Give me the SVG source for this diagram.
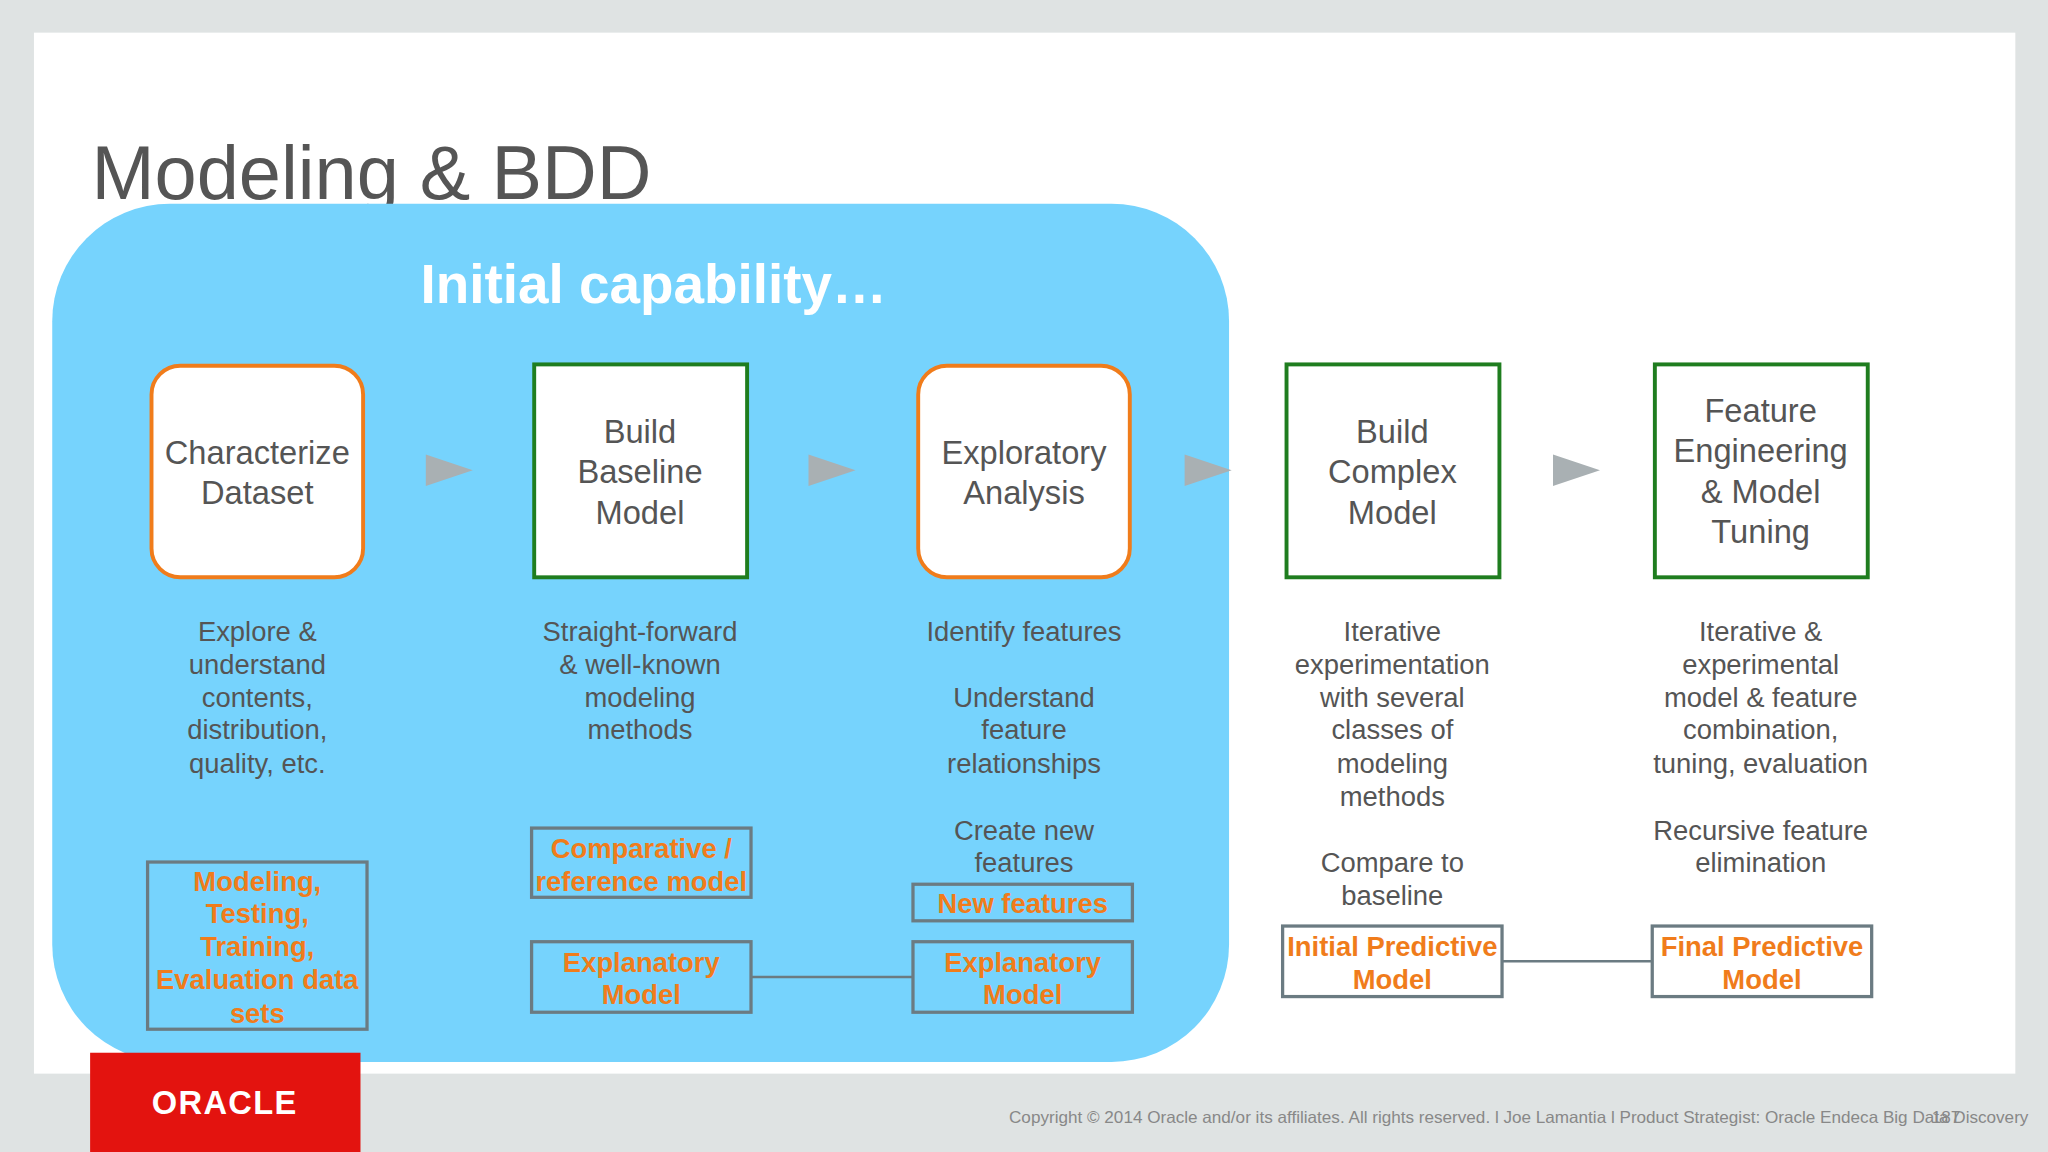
<svg xmlns="http://www.w3.org/2000/svg" width="2048" height="1152" viewBox="0 0 2048 1152">
<style>
text{font-family:"Liberation Sans",Arial,sans-serif}
.t{font-size:25px;fill:#555;text-anchor:middle}
.d{font-size:21px;fill:#555;text-anchor:middle}
.o{font-size:21px;fill:#f07c1b;font-weight:bold;text-anchor:middle}
.ob{fill:none;stroke:#6b7b82;stroke-width:2.5}
.rb{fill:#fff;stroke:#f07c1b;stroke-width:3}
.gb{fill:#fff;stroke:#1f7d1f;stroke-width:3}
.ar{fill:#a9b0b3}
</style>
<g transform="scale(1.30612)">
<rect x="0" y="0" width="1568" height="882" fill="#dfe3e3"/>
<rect x="26" y="25" width="1517" height="797" fill="#fff"/>
<text x="70" y="152" font-size="58" fill="#555">Modeling &amp; BDD</text>
<rect x="40" y="156" width="901" height="657" rx="90" fill="#76d3fd"/>
<text x="322" y="232" font-size="42" font-weight="bold" fill="#fff">Initial capability…</text>
<g id="connectors">
<polygon class="ar" points="326,348 362,360 326,372"/>
<polygon class="ar" points="619,348 655,360 619,372"/>
<polygon class="ar" points="907,348 943,360 907,372"/>
<polygon class="ar" points="1189,348 1225,360 1189,372"/>
<line x1="575" y1="748" x2="699" y2="748" stroke="#6b7b82" stroke-width="2"/>
<line x1="1150" y1="736" x2="1265" y2="736" stroke="#6b7b82" stroke-width="2"/>
</g>
<g id="n1"><rect class="rb" x="116" y="280" width="162" height="162" rx="22"/>
<text class="t" x="197" y="355">Characterize</text><text class="t" x="197" y="386">Dataset</text></g>
<g id="n2"><rect class="gb" x="409" y="279" width="163" height="163"/>
<text class="t" x="490" y="339">Build</text><text class="t" x="490" y="370">Baseline</text><text class="t" x="490" y="401">Model</text></g>
<g id="n3"><rect class="rb" x="703" y="280" width="162" height="162" rx="22"/>
<text class="t" x="784" y="355">Exploratory</text><text class="t" x="784" y="386">Analysis</text></g>
<g id="n4"><rect class="gb" x="985" y="279" width="163" height="163"/>
<text class="t" x="1066" y="339">Build</text><text class="t" x="1066" y="370">Complex</text><text class="t" x="1066" y="401">Model</text></g>
<g id="n5"><rect class="gb" x="1267" y="279" width="163" height="163"/>
<text class="t" x="1348" y="323">Feature</text><text class="t" x="1348" y="354">Engineering</text><text class="t" x="1348" y="385">&amp; Model</text><text class="t" x="1348" y="416">Tuning</text></g>
<g id="desc">
<text class="d" x="197" y="491">Explore &amp;</text><text class="d" x="197" y="516">understand</text><text class="d" x="197" y="541">contents,</text><text class="d" x="197" y="566">distribution,</text><text class="d" x="197" y="592">quality, etc.</text>
<text class="d" x="490" y="491">Straight-forward</text><text class="d" x="490" y="516">&amp; well-known</text><text class="d" x="490" y="541">modeling</text><text class="d" x="490" y="566">methods</text>
<text class="d" x="784" y="491">Identify features</text><text class="d" x="784" y="541">Understand</text><text class="d" x="784" y="566">feature</text><text class="d" x="784" y="592">relationships</text><text class="d" x="784" y="643">Create new</text><text class="d" x="784" y="668">features</text>
<text class="d" x="1066" y="491">Iterative</text><text class="d" x="1066" y="516">experimentation</text><text class="d" x="1066" y="541">with several</text><text class="d" x="1066" y="566">classes of</text><text class="d" x="1066" y="592">modeling</text><text class="d" x="1066" y="617">methods</text><text class="d" x="1066" y="668">Compare to</text><text class="d" x="1066" y="693">baseline</text>
<text class="d" x="1348" y="491">Iterative &amp;</text><text class="d" x="1348" y="516">experimental</text><text class="d" x="1348" y="541">model &amp; feature</text><text class="d" x="1348" y="566">combination,</text><text class="d" x="1348" y="592">tuning, evaluation</text><text class="d" x="1348" y="643">Recursive feature</text><text class="d" x="1348" y="668">elimination</text>
</g>
<g id="b1"><rect class="ob" x="113" y="660" width="168" height="128"/>
<text class="o" x="197" y="682">Modeling,</text><text class="o" x="197" y="707">Testing,</text><text class="o" x="197" y="732">Training,</text><text class="o" x="197" y="757">Evaluation data</text><text class="o" x="197" y="783">sets</text></g>
<g id="b2"><rect class="ob" x="407" y="634" width="168" height="53"/>
<text class="o" x="491" y="657">Comparative /</text><text class="o" x="491" y="682">reference model</text></g>
<g id="b3"><rect class="ob" x="407" y="721" width="168" height="54"/>
<text class="o" x="491" y="744">Explanatory</text><text class="o" x="491" y="769">Model</text></g>
<g id="b4"><rect class="ob" x="699" y="677" width="168" height="28"/>
<text class="o" x="783" y="699">New features</text></g>
<g id="b5"><rect class="ob" x="699" y="721" width="168" height="54"/>
<text class="o" x="783" y="744">Explanatory</text><text class="o" x="783" y="769">Model</text></g>
<g id="b6"><rect class="ob" x="982" y="709" width="168" height="54"/>
<text class="o" x="1066" y="732">Initial Predictive</text><text class="o" x="1066" y="757">Model</text></g>
<g id="b7"><rect class="ob" x="1265" y="709" width="168" height="54"/>
<text class="o" x="1349" y="732">Final Predictive</text><text class="o" x="1349" y="757">Model</text></g>
<rect x="69" y="806" width="207" height="76" fill="#e3130f"/>
<text x="172" y="853" font-size="25" font-weight="bold" fill="#fff" text-anchor="middle" letter-spacing="1">ORACLE</text>
<text x="1553" y="860" font-size="13.1" fill="#888" text-anchor="end">Copyright © 2014 Oracle and/or its affiliates. All rights reserved.  l Joe Lamantia l Product Strategist: Oracle Endeca Big Data Discovery</text>
<text x="1490" y="860" font-size="13.1" fill="#888" text-anchor="middle">187</text>
</g>
</svg>
